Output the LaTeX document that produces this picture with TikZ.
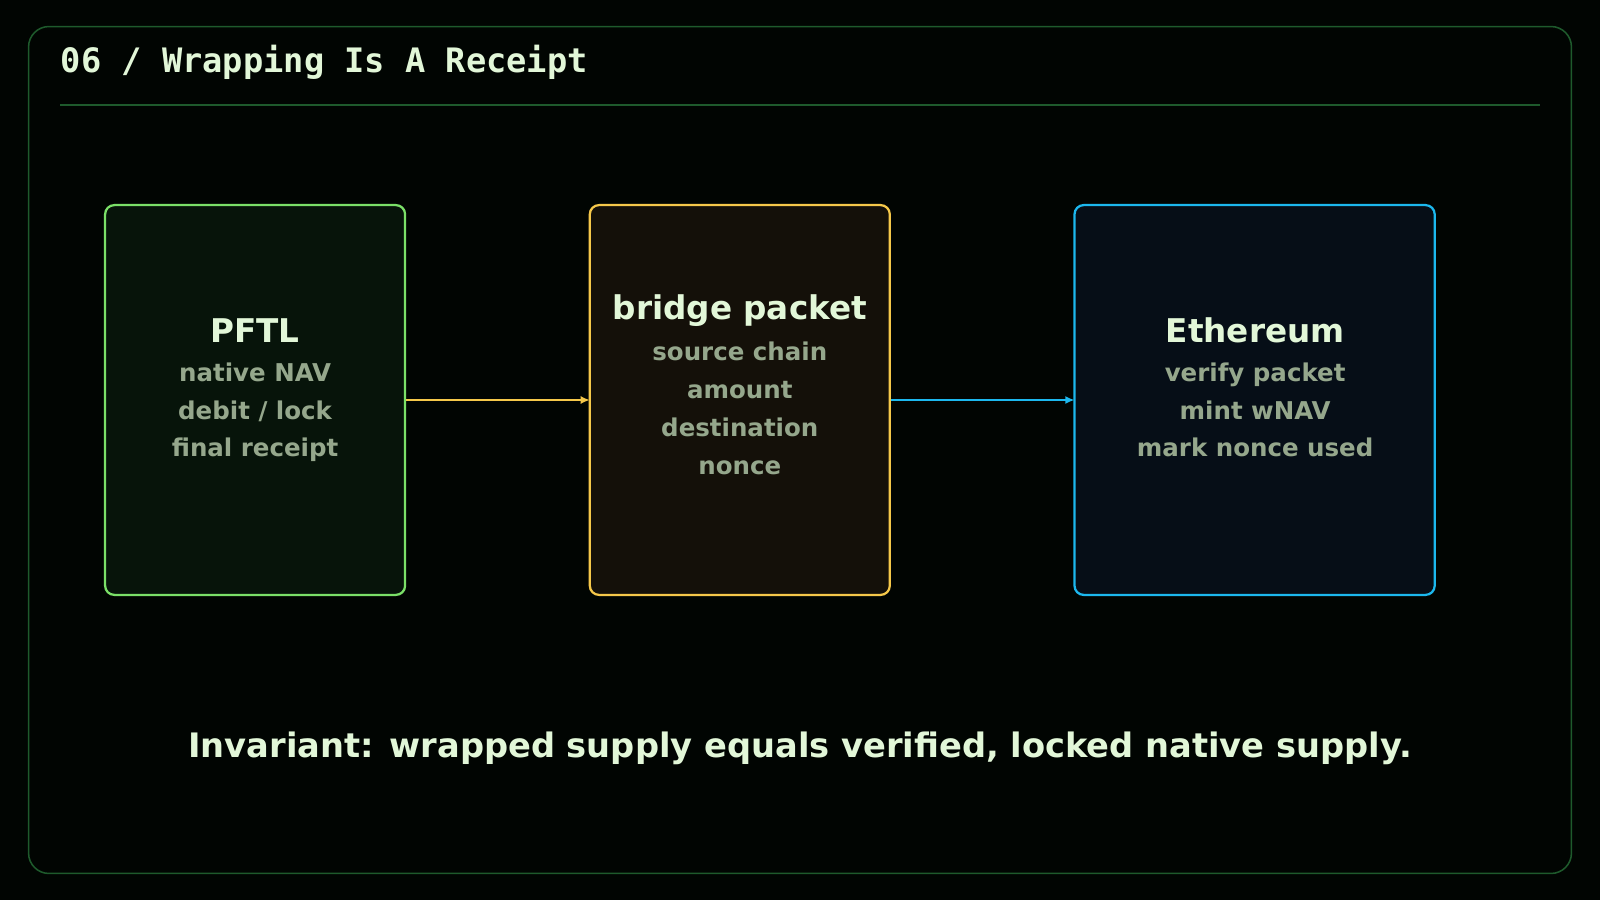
\documentclass[tikz,border=0pt]{standalone}
\usepackage{fontspec}
\setmainfont{DejaVu Sans}
\setmonofont{DejaVu Sans Mono}
\usetikzlibrary{arrows.meta}
\definecolor{bg}{HTML}{010502}
\definecolor{frame}{HTML}{1E5A2C}
\definecolor{txt}{HTML}{E2F7D8}
\definecolor{sub}{HTML}{95A78C}
\definecolor{gB}{HTML}{7BE068}\definecolor{gF}{HTML}{07140A}
\definecolor{yB}{HTML}{F5C84A}\definecolor{yF}{HTML}{141009}
\definecolor{bB}{HTML}{1CB8EE}\definecolor{bF}{HTML}{060E17}
\begin{document}
\begin{tikzpicture}[x=1pt,y=-1pt,
  box/.style={draw,line width=2.2pt,rounded corners=9pt},
  ttl/.style={font=\bfseries\fontsize{32}{36}\selectfont,text=txt},
  sl/.style={font=\bfseries\fontsize{24}{37}\selectfont,text=sub,align=center},
  arr/.style={line width=2.6pt,-{Latex[length=9pt,width=8pt]}}]
\fill[bg] (0,0) rectangle (1568,882);
\useasboundingbox (0,0) rectangle (1568,882);
\draw[frame,line width=1.5pt,rounded corners=20pt] (28,26) rectangle (1540,856);
\node[anchor=west,font=\ttfamily\bfseries\fontsize{33}{36}\selectfont,text=txt] (title) at (56,61) {06 / Wrapping Is A Receipt};
\draw[frame,line width=1.5pt] (59,103) -- (1509,103);
\draw[box,gB,fill=gF] (103,201) rectangle (397,583);
\draw[box,yB,fill=yF] (578,201) rectangle (872,583);
\draw[box,bB,fill=bF] (1053,201) rectangle (1406,583);
\coordinate (b1) at (398,392); \coordinate (b2l) at (578,392);
\coordinate (b2r) at (873,392); \coordinate (b3) at (1053,392);
\node[ttl] (t1) at (250,324) {PFTL};
\node[sl,anchor=north] (s1) at (250,352) {native NAV\\debit / lock\\final receipt};
\node[ttl] (t2) at (725,304) {bridge packet};
\node[sl,anchor=north] (s2) at (725,332) {source chain\\amount\\destination\\nonce};
\node[ttl] (t3) at (1230,324) {Ethereum};
\node[sl,anchor=north] (s3) at (1230,352) {verify packet\\mint wNAV\\mark nonce used};
\draw[arr,yB] (b1) -- (b2l);
\draw[arr,bB] (b2r) -- (b3);
\node[ttl,font=\bfseries\fontsize{33}{36}\selectfont] (inv) at (784,733) {Invariant: wrapped supply equals verified, locked native supply.};
\end{tikzpicture}
\end{document}
